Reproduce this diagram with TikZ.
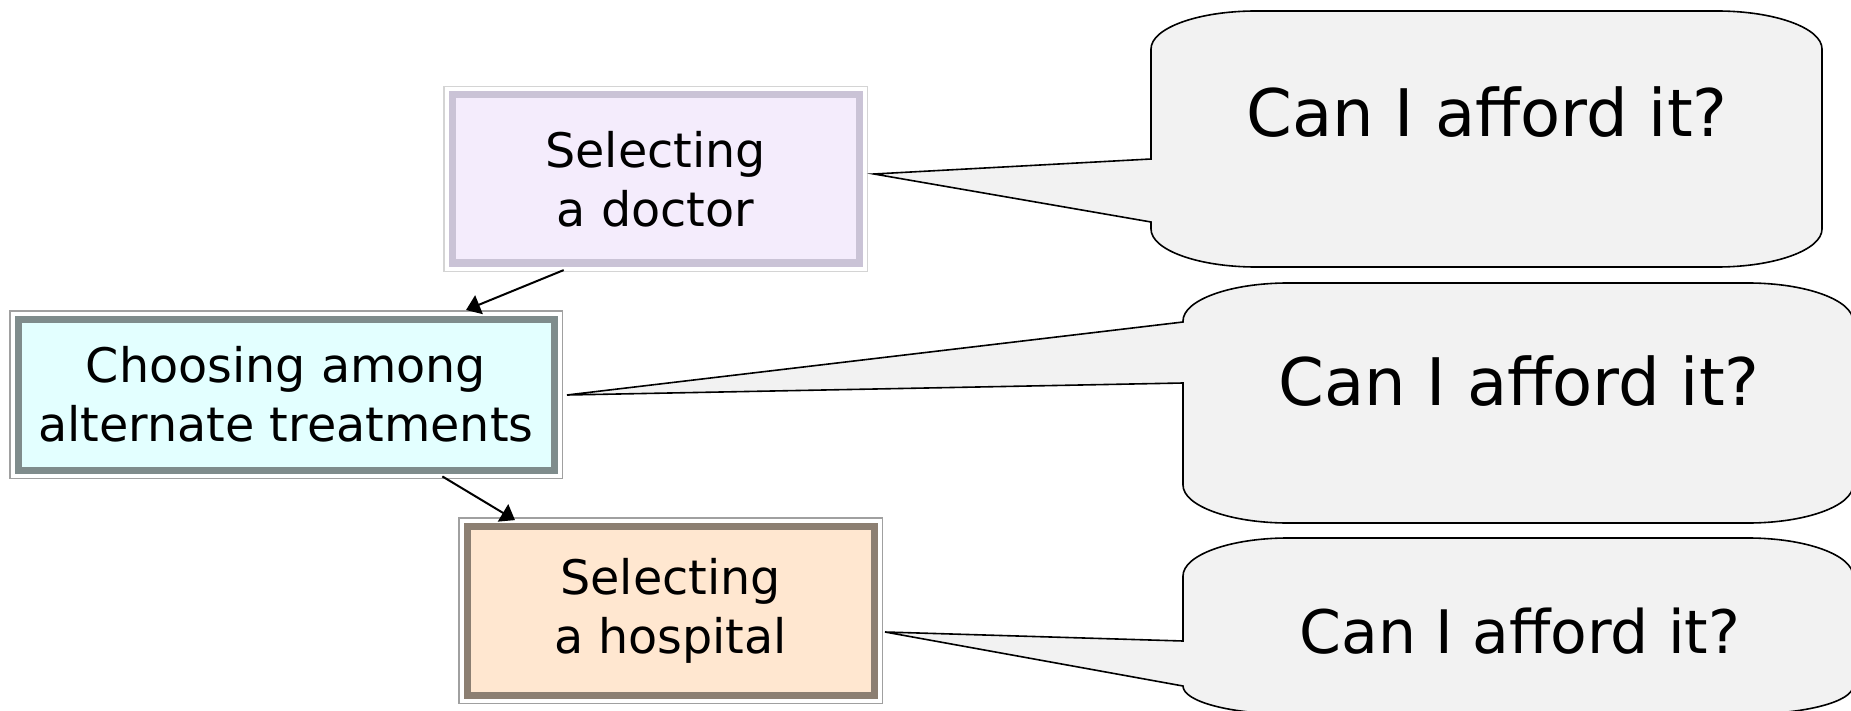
\documentclass[tikz,border=0pt]{standalone}
\usepackage{fontspec}
\setmainfont{DejaVu Sans}
\usetikzlibrary{arrows.meta,calc}

\definecolor{docfill}{HTML}{F4ECFC}
\definecolor{docline}{HTML}{CAC3D6}
\definecolor{docrim}{HTML}{D4D4D4}
\definecolor{treatfill}{HTML}{E3FFFF}
\definecolor{treatline}{HTML}{7F8C8C}
\definecolor{treatrim}{HTML}{A0A0A0}
\definecolor{hospfill}{HTML}{FFE7D0}
\definecolor{hospline}{HTML}{8C7F72}
\definecolor{hosprim}{HTML}{A0A0A0}
\definecolor{bubblefill}{HTML}{F2F2F2}

\begin{document}
\begin{tikzpicture}[x=0.5pt,y=-0.5pt]
    \tikzstyle{stage}=[rectangle,line width=3.5pt,outer sep=4.5pt,align=center,minimum width=203.5pt,minimum height=84pt,font=\fontsize{23.8}{29.5}\selectfont]
    \tikzstyle{bubble}=[draw=black,fill=bubblefill,line width=0.8pt]
    \tikzstyle{flow}=[-{Triangle[length=7pt,width=10pt]},line width=1pt]
    \tikzset{rim/.style={preaction={draw=#1,line width=9pt},preaction={draw=white,line width=7.5pt}}}
    \useasboundingbox (0,0) rectangle (1851,711);

    \node[stage,rim=docrim,draw=docline,fill=docfill] (doctor) at (655.5,179) {Selecting\\ a doctor};
    \node[stage,rim=treatrim,draw=treatline,fill=treatfill,minimum width=268pt,minimum height=75.5pt] (treat) at (286,394.5) {Choosing among\\alternate treatments};
    \node[stage,rim=hosprim,draw=hospline,fill=hospfill,minimum height=84.5pt] (hosp) at (670.5,610.5) {Selecting\\ a hospital};

    \draw[flow,shorten <=-2.5pt] ($(doctor.south west)!0.273!(doctor.south east)$) -- ($(treat.north west)!0.825!(treat.north east)$);
    \draw[flow,shorten <=-2.5pt,shorten >=-3pt] ($(treat.south west)!0.79!(treat.south east)$) -- ($(hosp.north west)!0.122!(hosp.north east)$);

    \coordinate (tip1) at ($(doctor.east)+(6,-5)$);
    \coordinate (tip2) at ($(treat.east)+(4,0.5)$);
    \coordinate (tip3) at ($(hosp.east)+(2,21.5)$);

    % speech bubbles
    \foreach \xl/\xr/\yt/\yb/\ja/\jb/\rt/\rb/\tip in {1151/1822/11/267/159/222/38/38/tip1, 1183/1853/283/523/322/383/38/38/tip2, 1183/1853/538/714/641/686/38/28/tip3}
        \draw[bubble] ({\xl},{\yt+\rt}) .. controls ({\xl},{\yt+0.45*\rt}) and ({\xl+47},{\yt}) .. ({\xl+105},{\yt})
            -- ({\xr-105},{\yt}) .. controls ({\xr-47},{\yt}) and ({\xr},{\yt+0.45*\rt}) .. ({\xr},{\yt+\rt})
            -- ({\xr},{\yb-\rb}) .. controls ({\xr},{\yb-0.45*\rb}) and ({\xr-47},{\yb}) .. ({\xr-105},{\yb})
            -- ({\xl+105},{\yb}) .. controls ({\xl+47},{\yb}) and ({\xl},{\yb-0.45*\rb}) .. ({\xl},{\yb-\rb})
            -- ({\xl},{\jb}) -- (\tip) -- ({\xl},{\ja}) -- cycle;

    \node[font=\fontsize{32.8}{40}\selectfont] (ask1) at (1487,112) {Can I afford it?};
    \node[font=\fontsize{32.8}{40}\selectfont] (ask2) at (1519,381) {Can I afford it?};
    \node[font=\fontsize{30}{36}\selectfont] (ask3) at (1520,631) {Can I afford it?};
\end{tikzpicture}
\end{document}
